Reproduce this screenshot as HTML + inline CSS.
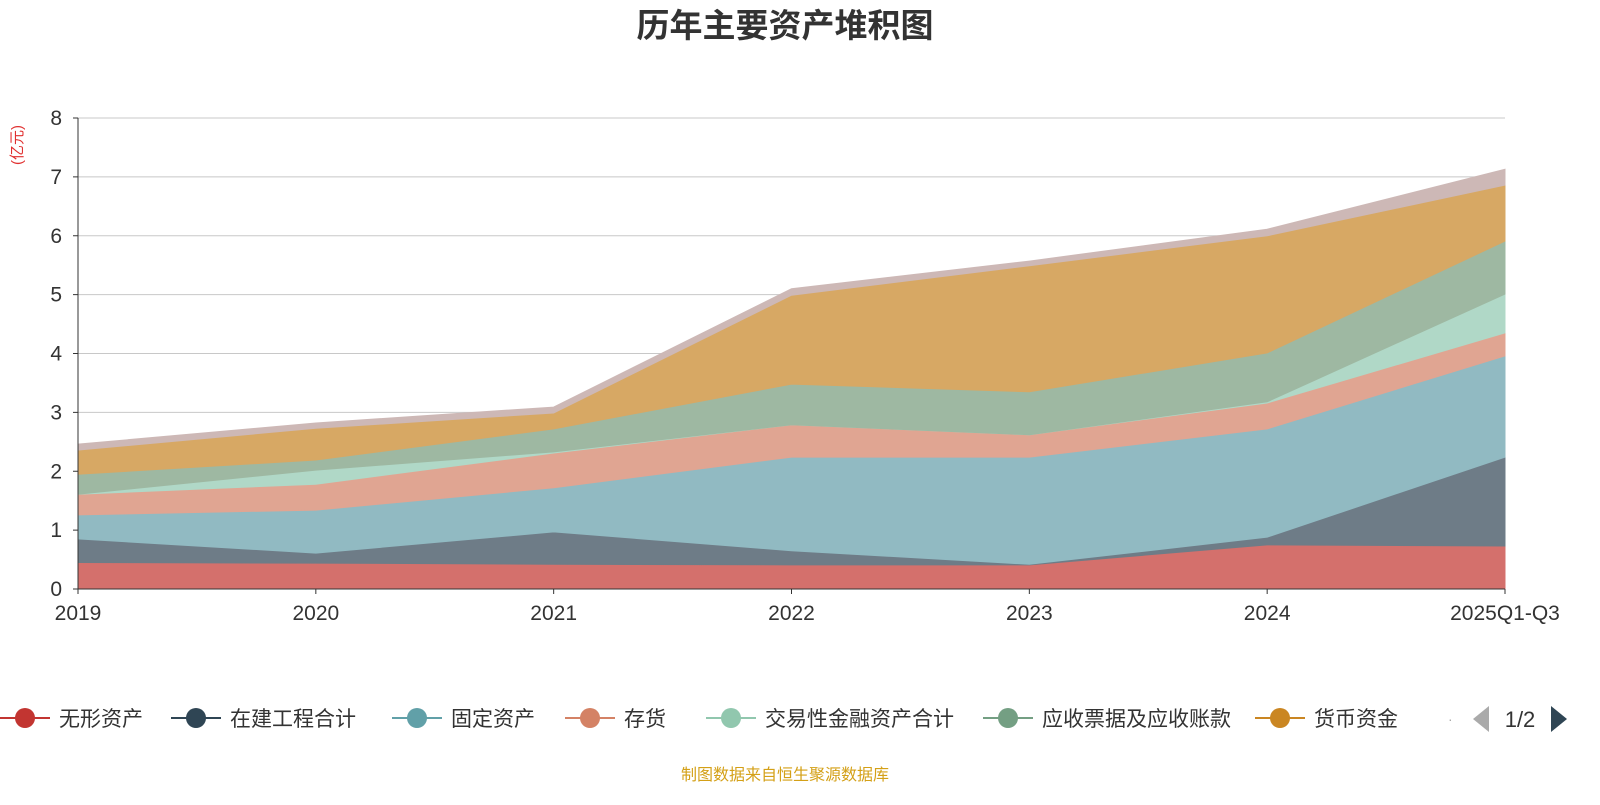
<!DOCTYPE html>
<html><head><meta charset="utf-8"><style>
body{margin:0;width:1600px;height:800px;background:#fff;overflow:hidden;font-family:"Liberation Sans","Noto Sans CJK SC",sans-serif}
</style></head><body>
<svg id="c" width="1600" height="800">
<text x="785" y="37" text-anchor="middle" font-size="33" font-weight="bold" fill="#333">历年主要资产堆积图</text>
<text transform="translate(22,145) rotate(-90)" text-anchor="middle" font-size="15" fill="#e03030">(亿元)</text>
<g id="grid"></g><g id="areas"></g><g id="axes"></g><g id="legend"></g>
<text x="785" y="780" text-anchor="middle" font-size="16" fill="#d4a017">制图数据来自恒生聚源数据库</text>
</svg>
<script>
const categories=["2019","2020","2021","2022","2023","2024","2025Q1-Q3"];
const seriesNames=["无形资产","在建工程合计","固定资产","存货","交易性金融资产合计","应收票据及应收账款","货币资金","其他"];
const sIntangible=[0.45,0.44,0.42,0.41,0.41,0.75,0.73];
const sConstruction=[0.40,0.17,0.55,0.24,0.01,0.13,1.51];
const sFixed=[0.41,0.73,0.75,1.59,1.82,1.84,1.72];
const sInventory=[0.35,0.44,0.59,0.55,0.38,0.44,0.39];
const sTrading=[0.0,0.24,0.02,0.0,0.0,0.02,0.66];
const sReceivable=[0.34,0.17,0.39,0.69,0.73,0.83,0.90];
const sCash=[0.41,0.54,0.27,1.51,2.14,1.99,0.95];
const sOther=[0.10,0.09,0.10,0.11,0.08,0.11,0.27];
const yTicks=[0,1,2,3,4,5,6,7,8];
const series=[sIntangible,sConstruction,sFixed,sInventory,sTrading,sReceivable,sCash,sOther];
const fills=["#d4706c","#6e7c87","#91bac2","#e0a592","#b0d8c7","#9eb8a2","#d7a864","#cdb8b6"];
const legendColors=["#c23531","#2f4554","#61a0a8","#d48265","#91c7ae","#749f83","#ca8622"];
const NS="http://www.w3.org/2000/svg";
const X0=78,X1=1505,Y0=589,Y1=118;
const x=i=>X0+(X1-X0)*i/(categories.length-1);
const y=v=>Y0-(Y0-Y1)*v/8;
function mk(t,a,p){const e=document.createElementNS(NS,t);for(const k in a)e.setAttribute(k,a[k]);p.appendChild(e);return e;}
const grid=document.getElementById('grid'),axes=document.getElementById('axes'),areas=document.getElementById('areas'),leg=document.getElementById('legend');
yTicks.forEach(t=>{
 if(t>0){const l=mk('line',{x1:X0,x2:X1,y1:y(t),y2:y(t),stroke:'#c8c8c8'},grid);
 
 }
 const tx=mk('text',{x:X0-16,y:y(t)+7,'text-anchor':'end','font-size':21,fill:'#333'},axes);tx.textContent=t;
 
 
 mk('line',{x1:X0-5,x2:X0,y1:y(t),y2:y(t),stroke:'#333'},axes);
});
let base=categories.map(()=>0);
series.forEach((s,k)=>{
 const top=base.map((b,i)=>b+s[i]);
 let d='M'+top.map((v,i)=>x(i)+','+y(v)).join(' L');
 for(let i=categories.length-1;i>=0;i--)d+=' L'+x(i)+','+y(base[i]);
 const p=mk('path',{d:d+'Z',fill:fills[k],stroke:fills[k],'stroke-width':1},areas);
 
 
 base=top;
});
mk('line',{x1:X0,x2:X0,y1:Y1,y2:Y0,stroke:'#333'},axes);
mk('line',{x1:X0,x2:X1,y1:Y0,y2:Y0,stroke:'#333'},axes);
categories.forEach((c,i)=>{
 mk('line',{x1:x(i),x2:x(i),y1:Y0,y2:Y0+5,stroke:'#333'},axes);
 const t=mk('text',{x:x(i),y:620,'text-anchor':'middle','font-size':21,fill:'#333'},axes);t.textContent=c;
 
 
});
const lx=[5,176,397,570,711,988,1260];
seriesNames.slice(0,7).forEach((n,k)=>{
 const g=mk('g',{},leg);
 
 
 mk('line',{x1:lx[k]-5,x2:lx[k]+45,y1:718,y2:718,stroke:legendColors[k],'stroke-width':2},g);
 mk('circle',{cx:lx[k]+20,cy:718,r:10,fill:legendColors[k]},g);
 const t=mk('text',{x:lx[k]+54,y:726,'font-size':21,fill:'#333'},g);t.textContent=n;
});
const dot=mk('text',{x:1448,y:724,'font-size':14,fill:'#aaa'},leg);dot.textContent='·';
const pv=mk('path',{d:'M1489,706 L1473,719 L1489,732Z',fill:'#aaa'},leg);


const pt=mk('text',{x:1520,y:727,'text-anchor':'middle','font-size':22,fill:'#333'},leg);pt.textContent='1/2';


const nx=mk('path',{d:'M1551,706 L1567,719 L1551,732Z',fill:'#2f4554'},leg);


</script>
</body></html>
